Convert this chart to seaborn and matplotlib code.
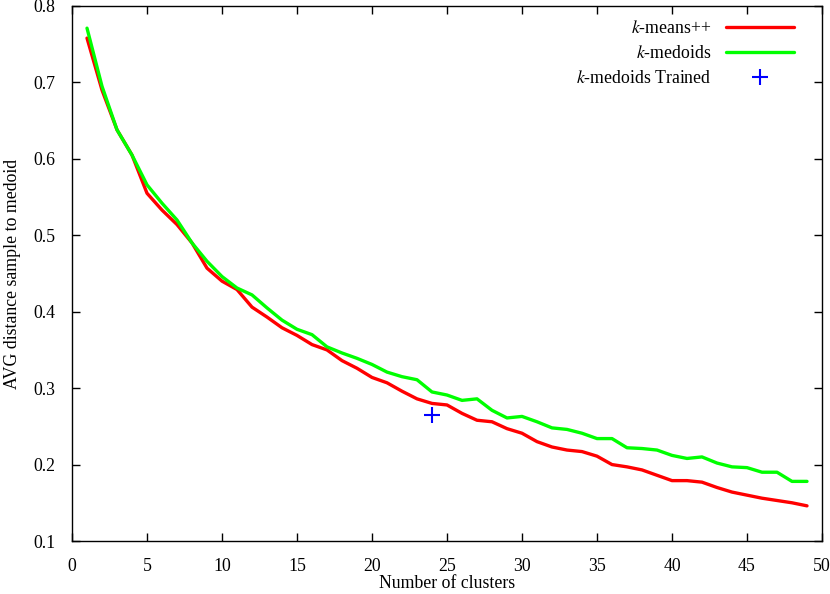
import numpy as np
import pandas as pd
import matplotlib
matplotlib.use("Agg")
import matplotlib.pyplot as plt
import seaborn as sns

# number of clusters
clusters = list(range(1, 50))

kmeanspp = [0.758, 0.690, 0.638, 0.605, 0.555, 0.533, 0.514, 0.490, 0.457, 0.440,
            0.429, 0.406, 0.393, 0.379, 0.369, 0.357, 0.350, 0.336, 0.326, 0.314,
            0.307, 0.296, 0.286, 0.280, 0.278, 0.267, 0.258, 0.256, 0.247, 0.241,
            0.230, 0.223, 0.219, 0.217, 0.211, 0.200, 0.197, 0.193, 0.186, 0.179,
            0.179, 0.177, 0.170, 0.164, 0.160, 0.156, 0.153, 0.150, 0.146]

kmedoids = [0.771, 0.695, 0.638, 0.605, 0.566, 0.542, 0.520, 0.490, 0.466, 0.446,
            0.431, 0.422, 0.405, 0.389, 0.377, 0.370, 0.354, 0.346, 0.339, 0.331,
            0.321, 0.315, 0.311, 0.295, 0.291, 0.284, 0.286, 0.271, 0.261, 0.263,
            0.256, 0.248, 0.246, 0.241, 0.234, 0.234, 0.222, 0.221, 0.219, 0.212,
            0.208, 0.210, 0.202, 0.197, 0.196, 0.190, 0.190, 0.178, 0.178]

trained_k = [24]
trained_val = [0.265]

df = pd.DataFrame({"k": clusters, "kmeanspp": kmeanspp, "kmedoids": kmedoids})

sns.set_style("ticks")
plt.rcParams["font.family"] = ["Liberation Serif", "DejaVu Serif"]
plt.rcParams["mathtext.fontset"] = "stix"
for key in ["text.color", "axes.labelcolor", "xtick.color", "ytick.color"]:
    plt.rcParams[key] = "black"

fs = 12.8

fig = plt.figure(figsize=(8.3, 5.94), dpi=100)
ax = fig.add_axes([72 / 830, 1 - 541 / 594, 750 / 830, 535 / 594])

sns.lineplot(data=df, x="k", y="kmeanspp", color="#ff0000", lw=2.4,
             label="$k$-means++", ax=ax)
sns.lineplot(data=df, x="k", y="kmedoids", color="#00ff00", lw=2.4,
             label="$k$-medoids", ax=ax)
ax.plot(trained_k, trained_val, ls="none", marker="+", color="#0000ff",
        ms=11, mew=1.5, label="$k$-medoids Trained")

ax.set_xlim(0, 50)
ax.set_ylim(0.1, 0.8)
ax.set_xticks(range(0, 51, 5))
ax.set_yticks(np.arange(0.1, 0.81, 0.1))
ax.set_yticklabels([f"{v:.1f}" for v in np.arange(0.1, 0.81, 0.1)])
ax.tick_params(direction="in", top=True, right=True, length=6, width=1,
               labelsize=fs)
ax.tick_params(axis="x", pad=12)
ax.tick_params(axis="y", pad=12)
for s in ax.spines.values():
    s.set_linewidth(1.0)
    s.set_color("black")

ax.set_xlabel("Number of clusters", fontsize=fs, labelpad=0.5)
ax.set_ylabel("AVG distance sample to medoid", fontsize=fs, labelpad=9)

leg = ax.legend(loc="upper right", bbox_to_anchor=(1.0, 1.0 + 14 / 535),
                frameon=False, markerfirst=False,
                fontsize=fs, handlelength=3.8, handletextpad=0.85,
                borderaxespad=1.2, labelspacing=0.45)

fig.savefig("out.png", dpi=100)
